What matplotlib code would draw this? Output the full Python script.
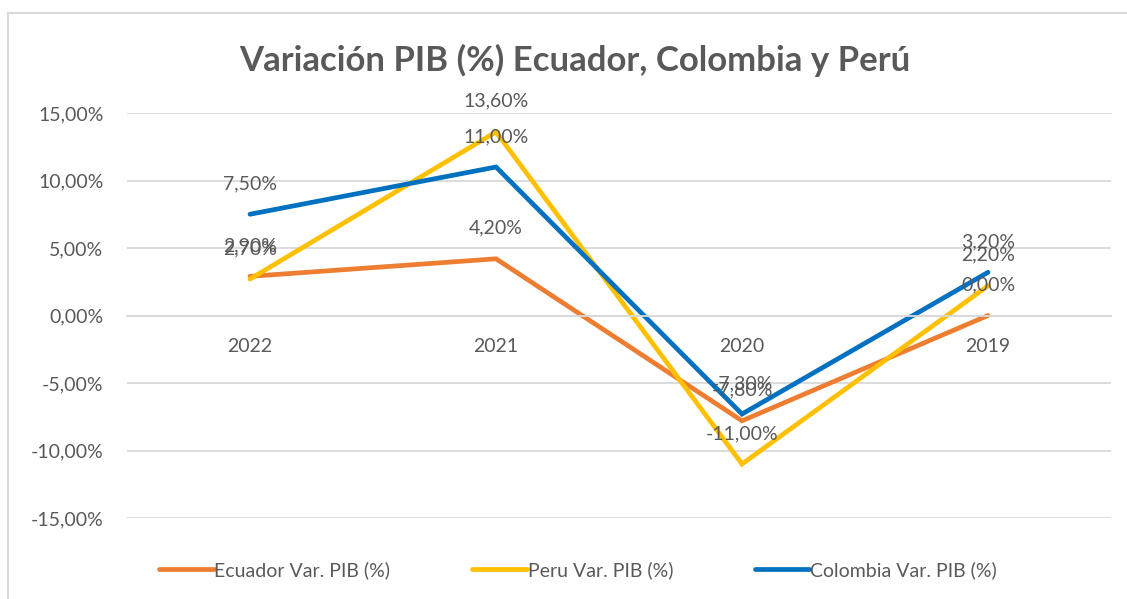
import matplotlib
matplotlib.use("Agg")
import matplotlib.pyplot as plt
from matplotlib.patches import Rectangle

years = ["2022", "2021", "2020", "2019"]
ecuador = [2.9, 4.2, -7.8, 0.0]
peru = [2.7, 13.6, -11.0, 2.2]
colombia = [7.5, 11.0, -7.3, 3.2]
series_names = ["Ecuador Var. PIB (%)", "Peru Var. PIB (%)", "Colombia Var. PIB (%)"]
colors = ["#ED7D31", "#FFC000", "#0070C0"]
yticks = [-15, -10, -5, 0, 5, 10, 15]

plt.rcParams['font.family'] = ['Lato', 'DejaVu Sans']
txt = "#595959"
fs = 14

W, H = 1127, 599
fig = plt.figure(figsize=(W / 100, H / 100), dpi=100)
fig.patch.set_facecolor("white")

# chart border
fig.add_artist(Rectangle((8 / W, -0.05), 1.2, 1 - 13 / H + 0.05, transform=fig.transFigure,
                         fill=False, edgecolor="#D9D9D9", lw=1.5))

ax = fig.add_axes([127 / W, 1 - 518 / H, 984 / W, 405 / H])
x = list(range(len(years)))
for vals, name, c in zip([ecuador, peru, colombia], series_names, colors):
    ax.plot(x, vals, color=c, lw=3.4, label=name, solid_capstyle="round", solid_joinstyle="miter")
    for xi, v in zip(x, vals):
        ax.annotate(f"{v:.2f}%".replace(".", ","), (xi, v), xytext=(0, 22), textcoords="offset points",
                    ha="center", va="center", fontsize=fs, color=txt)

ax.set_xlim(-0.5, 3.5)
ax.set_ylim(-15, 15)
ax.set_yticks(yticks)
ax.set_yticklabels([f"{t:.2f}%".replace(".", ",") for t in yticks])
ax.set_xticks(x)
ax.set_xticklabels(years)
ax.grid(axis="y", color="#D9D9D9", lw=1.3)
ax.set_axisbelow(True)
for s in ["top", "right", "left"]:
    ax.spines[s].set_visible(False)
ax.spines["bottom"].set_position(("data", 0))
ax.spines["bottom"].set_color("#D9D9D9")
ax.spines["bottom"].set_linewidth(1.3)
ax.tick_params(axis="both", length=0, colors=txt, labelsize=fs)
ax.tick_params(axis="y", pad=17)
ax.tick_params(axis="x", pad=16)
for lab in ax.get_yticklabels():
    lab.set_horizontalalignment("right")

fig.text(575 / W, 1 - 60 / H, "Variación PIB (%) Ecuador, Colombia y Perú", ha="center", va="center",
         fontsize=25, fontweight="bold", color=txt)

leg = fig.legend(loc="center", bbox_to_anchor=(578 / W, 1 - 570 / H), ncol=3, frameon=False,
                 fontsize=fs, handlelength=2.8, handletextpad=0.05, columnspacing=4.2, labelcolor=txt)

fig.savefig("out.png", dpi=100, facecolor="white")
